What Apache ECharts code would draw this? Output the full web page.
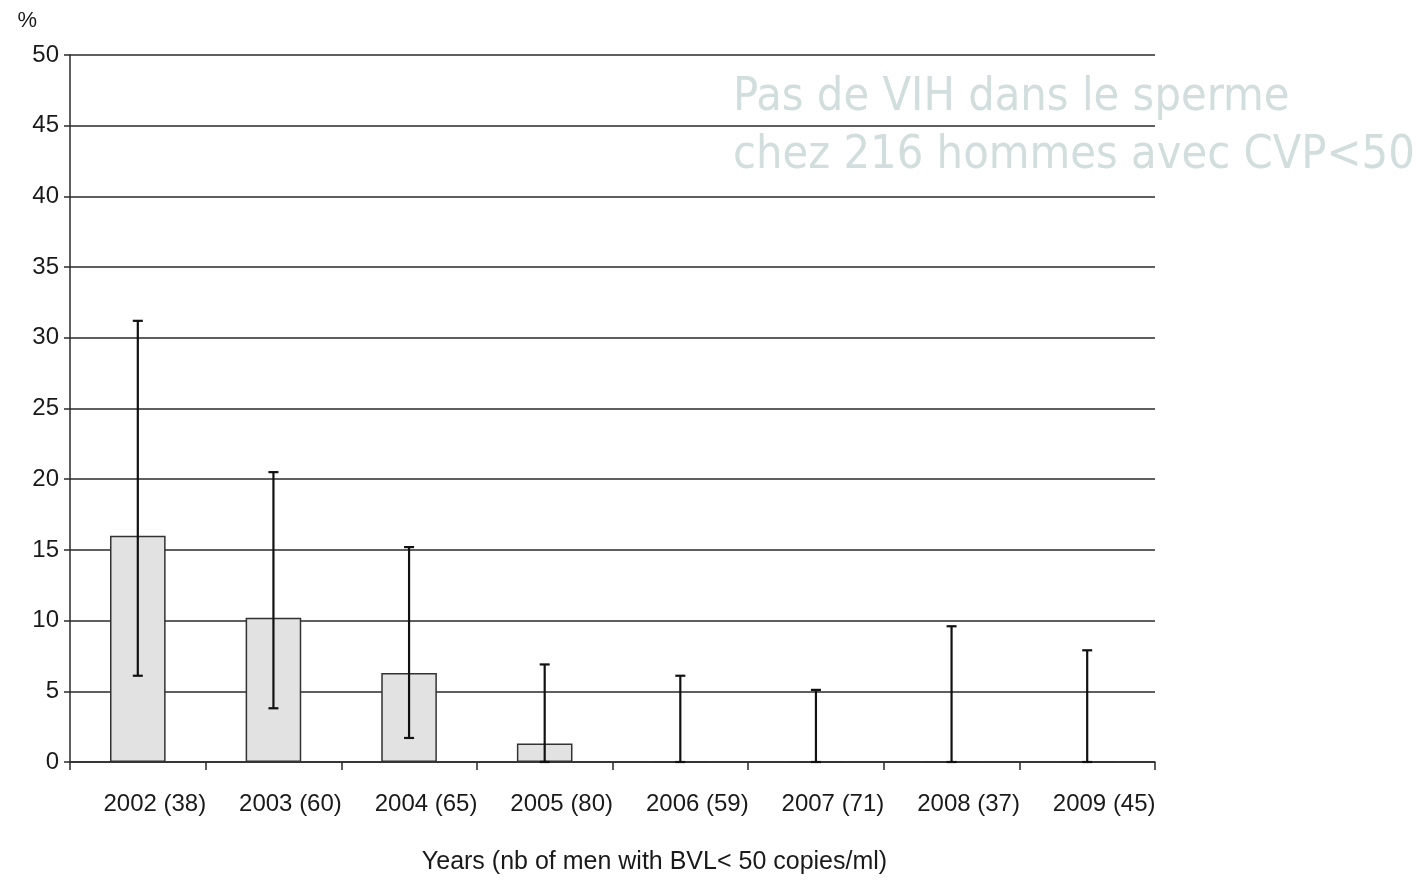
<!DOCTYPE html>
<html>
<head>
<meta charset="utf-8">
<script src="https://cdn.jsdelivr.net/npm/echarts@6/dist/echarts.min.js"></script>
<style>
html,body{margin:0;padding:0;background:#fff;overflow:hidden;}
#chart{width:1427px;height:880px;}
</style>
</head>
<body>
<div id="chart"></div>
<script>
const categories = ['2002 (38)', '2003 (60)', '2004 (65)', '2005 (80)', '2006 (59)', '2007 (71)', '2008 (37)', '2009 (45)'];
const percentValues = [16.0, 10.2, 6.3, 1.3, 0, 0, 0, 0];
const errLow = [6.1, 3.8, 1.7, 0, 0, 0, 0, 0];
const errHigh = [31.2, 20.5, 15.2, 6.9, 6.1, 5.1, 9.6, 7.9];
const yTicks = [0, 5, 10, 15, 20, 25, 30, 35, 40, 45, 50];
const overlayLines = ['Pas de VIH dans le sperme', 'chez 216 hommes avec CVP<50'];
const xAxisTitle = 'Years (nb of men with BVL< 50 copies/ml)';

const chart = echarts.init(document.getElementById('chart'));
const textColor = '#1a1a1a';
const lineColor = '#2a2a2a';

const errData = categories.map((c, i) => [i, errLow[i], errHigh[i]]);

chart.setOption({
  animation: false,
  backgroundColor: '#ffffff',
  grid: { left: 70, top: 55, width: 1085, height: 713, containLabel: false },
  xAxis: {
    type: 'category',
    data: categories,
    boundaryGap: true,
    name: xAxisTitle,
    nameLocation: 'middle',
    nameGap: 88,
    nameTextStyle: { fontFamily: 'Liberation Sans', fontSize: 25, color: textColor, padding: [0, 0, 0, 84] },
    axisLine: { lineStyle: { color: lineColor, width: 1.5 } },
    axisTick: { show: true, alignWithLabel: false, length: 8, lineStyle: { color: lineColor, width: 1.5 } },
    axisLabel: { fontFamily: 'Liberation Sans', fontSize: 24, color: textColor, margin: 30, interval: 0, padding: [0, 0, 0, 34] },
    splitLine: { show: false }
  },
  yAxis: {
    type: 'value',
    min: yTicks[0],
    max: yTicks[yTicks.length - 1],
    interval: 5,
    name: '%',
    nameLocation: 'end',
    nameGap: 23,
    nameTextStyle: { fontFamily: 'Liberation Sans', fontSize: 22, color: textColor, align: 'right', padding: [0, 33, 0, 0] },
    axisLine: { show: true, lineStyle: { color: lineColor, width: 1.5 } },
    axisTick: { show: true, length: 6, lineStyle: { color: lineColor, width: 1.5 } },
    axisLabel: { fontFamily: 'Liberation Sans', fontSize: 24, color: textColor, margin: 11 },
    splitLine: { show: true, lineStyle: { color: lineColor, width: 1.5 } }
  },
  series: [
    {
      type: 'bar',
      data: percentValues,
      barWidth: '41%',
      itemStyle: { color: '#e2e2e2', borderColor: '#333333', borderWidth: 1.5 },
      z: 2
    },
    {
      type: 'custom',
      data: errData,
      z: 3,
      renderItem: function (params, api) {
        const i = api.value(0);
        const lo = api.coord([i, api.value(1)]);
        const hi = api.coord([i, api.value(2)]);
        const cap = 5;
        const style = { stroke: '#111111', lineWidth: 2.2 };
        return {
          type: 'group',
          children: [
            { type: 'line', shape: { x1: lo[0], y1: lo[1], x2: hi[0], y2: hi[1] }, style: style },
            { type: 'line', shape: { x1: hi[0] - cap, y1: hi[1], x2: hi[0] + cap, y2: hi[1] }, style: style },
            { type: 'line', shape: { x1: lo[0] - cap, y1: lo[1], x2: lo[0] + cap, y2: lo[1] }, style: style }
          ]
        };
      }
    }
  ],
  graphic: overlayLines.map((t, k) => ({
    type: 'text',
    left: 733,
    top: 74 + k * 58,
    z: 10,
    style: {
      text: t,
      fontFamily: '"DejaVu Sans Condensed", "DejaVu Sans"',
      fontSize: 46.5,
      fill: '#d2dddd'
    }
  }))
});
</script>
</body>
</html>
